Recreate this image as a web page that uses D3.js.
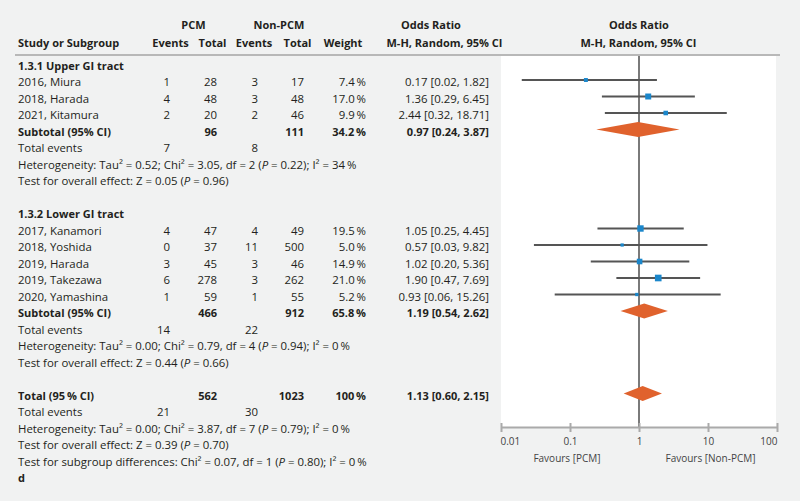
<!DOCTYPE html>
<html><head><meta charset="utf-8">
<script src="https://cdn.jsdelivr.net/npm/d3@7"></script>
<style>
body{margin:0;background:#f1f2f2;}
svg{display:block;font-family:"Open Sans",sans-serif;}
</style></head><body>
<script>
// ---------- data ----------
const groupNames = ["1.3.1 Upper GI tract", "1.3.2 Lower GI tract"];
const studyNames = ["2016, Miura", "2018, Harada", "2021, Kitamura", "2017, Kanamori", "2018, Yoshida", "2019, Harada", "2019, Takezawa", "2020, Yamashina"];
const studyGroup = [0, 0, 0, 1, 1, 1, 1, 1];
const pcmEvents = [1, 4, 2, 4, 0, 3, 6, 1];
const pcmTotal = [28, 48, 20, 47, 37, 45, 278, 59];
const nonEvents = [3, 3, 2, 4, 11, 3, 3, 1];
const nonTotal = [17, 48, 46, 49, 500, 46, 262, 55];
const weights = [7.4, 17.0, 9.9, 19.5, 5.0, 14.9, 21.0, 5.2];
const oddsRatio = [0.17, 1.36, 2.44, 1.05, 0.57, 1.02, 1.90, 0.93];
const ciLow = [0.02, 0.29, 0.32, 0.25, 0.03, 0.20, 0.47, 0.06];
const ciHigh = [1.82, 6.45, 18.71, 4.45, 9.82, 5.36, 7.69, 15.26];

// pooled: group 1, group 2, overall
const pooledLabel = ["Subtotal (95% CI)", "Subtotal (95% CI)", "Total (95\u2009% CI)"];
const pooledPcmTotal = [96, 466, 562];
const pooledNonTotal = [111, 912, 1023];
const pooledWeight = ["34.2\u2009%", "65.8\u2009%", "100\u2009%"];
const pooledOR = [0.97, 1.19, 1.13];
const pooledLow = [0.24, 0.54, 0.60];
const pooledHigh = [3.87, 2.62, 2.15];
const pooledPcmEvents = [7, 14, 21];
const pooledNonEvents = [8, 22, 30];
const heterogeneity = [
  "Heterogeneity: Tau² = 0.52; Chi² = 3.05, df = 2 ({P} = 0.22); I² = 34\u2009%",
  "Heterogeneity: Tau² = 0.00; Chi² = 0.79, df = 4 ({P} = 0.94); I² = 0\u2009%",
  "Heterogeneity: Tau² = 0.00; Chi² = 3.87, df = 7 ({P} = 0.79); I² = 0\u2009%"
];
const overallEffect = [
  "Test for overall effect: Z = 0.05 ({P} = 0.96)",
  "Test for overall effect: Z = 0.44 ({P} = 0.66)",
  "Test for overall effect: Z = 0.39 ({P} = 0.70)"
];
const subgroupTest = "Test for subgroup differences: Chi² = 0.07, df = 1 ({P} = 0.80); I² = 0\u2009%";
const panelLabel = "d";

const tickValues = [0.01, 0.1, 1, 10, 100];
const tickLabels = ["0.01", "0.1", "1", "10", "100"];
const favoursLeft = "Favours [PCM]";
const favoursRight = "Favours [Non-PCM]";

// ---------- layout ----------
const W = 800, H = 501;
const svg = d3.select("body").append("svg").attr("width", W).attr("height", H);
svg.append("rect").attr("width", W).attr("height", H).attr("fill", "#f1f2f2");

const x = d3.scaleLog().domain([0.01, 100]).range([501, 777]);
const rowY = d3.scaleLinear().domain([0, 25]).range([63.5, 476]);
const TXT = "#231f20";
const BASE = 6; // text baseline offset from row centre
const REG = 11.4, BOLD = 11;

const col = {label: 18, pe: 170, pt: 217, ne: 258, nt: 304, w: 366, or: 489};

function fmt(v) { return v.toFixed(2); }
function ciText(o, l, h) { return fmt(o) + " [" + fmt(l) + ", " + fmt(h) + "]"; }

function txt(xp, y, s, anchor, bold, size) {
  const t = svg.append("text").attr("x", xp).attr("y", y)
    .attr("text-anchor", anchor || "start")
    .attr("font-size", size || (bold ? BOLD : REG))
    .attr("font-weight", bold ? 700 : 400)
    .attr("fill", TXT);
  const parts = String(s).split("{P}");
  parts.forEach((p, i) => {
    if (i > 0) t.append("tspan").attr("font-style", "italic").text("P");
    t.append("tspan").text(p);
  });
  return t;
}

// plot background
svg.append("rect").attr("x", 501).attr("y", 56).attr("width", 275).attr("height", 371).attr("fill", "#ffffff");

// headers
txt(193.5, 29, "PCM", "middle", true);
txt(279, 29, "Non-PCM", "middle", true);
txt(431, 29, "Odds Ratio", "middle", true);
txt(639, 29, "Odds Ratio", "middle", true);
txt(col.label, 47, "Study or Subgroup", "start", true);
txt(170.5, 47, "Events", "middle", true);
txt(212.5, 47, "Total", "middle", true);
txt(254, 47, "Events", "middle", true);
txt(297.5, 47, "Total", "middle", true);
txt(343, 47, "Weight", "middle", true);
txt(444.5, 47, "M-H, Random, 95% CI", "middle", true);
txt(638.5, 47, "M-H, Random, 95% CI", "middle", true);
svg.append("line").attr("x1", 15).attr("x2", 780).attr("y1", 55).attr("y2", 55)
  .attr("stroke", "#a5a5a5").attr("stroke-width", 1.5);

// vertical line of no effect
svg.append("line").attr("x1", x(1)).attr("x2", x(1)).attr("y1", 56).attr("y2", 427)
  .attr("stroke", "#7a7a7a").attr("stroke-width", 2);

// rows
let r = 0;
const studyRows = [], pooledRows = [];
groupNames.forEach((g, gi) => {
  txt(col.label, rowY(r) + BASE, g, "start", true);
  r++;
  studyNames.forEach((n, i) => {
    if (studyGroup[i] !== gi) return;
    studyRows[i] = r;
    const y = rowY(r) + BASE;
    txt(col.label, y, n);
    txt(col.pe, y, pcmEvents[i], "end");
    txt(col.pt, y, pcmTotal[i], "end");
    txt(col.ne, y, nonEvents[i], "end");
    txt(col.nt, y, nonTotal[i], "end");
    txt(col.w, y, weights[i].toFixed(1) + "\u2009%", "end");
    txt(col.or, y, ciText(oddsRatio[i], ciLow[i], ciHigh[i]), "end");
    r++;
  });
  pooledRows[gi] = r;
  r = drawPooled(gi, r);
  r++; // blank line
});
pooledRows[2] = r;
r = drawPooled(2, r);
txt(col.label, rowY(r) + BASE, subgroupTest); r++;
txt(col.label, rowY(r) + BASE, panelLabel, "start", true);

function drawPooled(k, rr) {
  let y = rowY(rr) + BASE;
  txt(col.label, y, pooledLabel[k], "start", true);
  txt(col.pt, y, pooledPcmTotal[k], "end", true);
  txt(col.nt, y, pooledNonTotal[k], "end", true);
  txt(col.w, y, pooledWeight[k], "end", true);
  txt(col.or, y, ciText(pooledOR[k], pooledLow[k], pooledHigh[k]), "end", true);
  rr++;
  y = rowY(rr) + BASE;
  txt(col.label, y, "Total events");
  txt(col.pe, y, pooledPcmEvents[k], "end");
  txt(col.ne, y, pooledNonEvents[k], "end");
  rr++;
  txt(col.label, rowY(rr) + BASE, heterogeneity[k]); rr++;
  txt(col.label, rowY(rr) + BASE, overallEffect[k]); rr++;
  return rr;
}

// study CIs and squares
const marks = svg.append("g");
studyNames.forEach((n, i) => {
  const y = rowY(studyRows[i]);
  marks.append("line").attr("x1", x(Math.max(ciLow[i], 0.01))).attr("x2", x(Math.min(ciHigh[i], 100)))
    .attr("y1", y).attr("y2", y).attr("stroke", "#555555").attr("stroke-width", 2);
  const s = 1.45 * Math.sqrt(weights[i]);
  marks.append("rect").attr("x", x(oddsRatio[i]) - s / 2).attr("y", y - s / 2)
    .attr("width", s).attr("height", s).attr("fill", "#1b87cb");
});

// diamonds
pooledOR.forEach((o, k) => {
  const y = rowY(pooledRows[k]);
  const hh = 7.5;
  const pts = [[x(pooledLow[k]), y], [x(o), y - hh], [x(pooledHigh[k]), y], [x(o), y + hh]];
  marks.append("polygon").attr("points", pts.map(p => p.join(",")).join(" "))
    .attr("fill", "#e0622d");
});

// axis
const axisG = svg.append("g").attr("transform", "translate(0,427)")
  .call(d3.axisBottom(x).tickValues(tickValues).tickFormat((d, i) => tickLabels[i]).tickSizeOuter(0).tickSizeInner(5).tickPadding(6));
axisG.select(".domain").attr("stroke", "#aaaaaa").attr("stroke-width", 2);
axisG.selectAll(".tick line").attr("y1", -4).attr("y2", 5).attr("stroke", "#aaaaaa").attr("stroke-width", 2);
axisG.selectAll(".tick text").attr("font-size", 10).attr("fill", "#444").attr("font-family", "Open Sans, sans-serif")
  .attr("text-anchor", (d, i) => i === 0 ? "start" : (i === tickValues.length - 1 ? "end" : "middle"))
  .attr("dx", (d, i) => i === 0 ? -1 : 0);
txt(567, 462, favoursLeft, "middle", false, 10).attr("fill", "#444");
txt(710.5, 462, favoursRight, "middle", false, 10).attr("fill", "#444");
</script>
</body></html>
